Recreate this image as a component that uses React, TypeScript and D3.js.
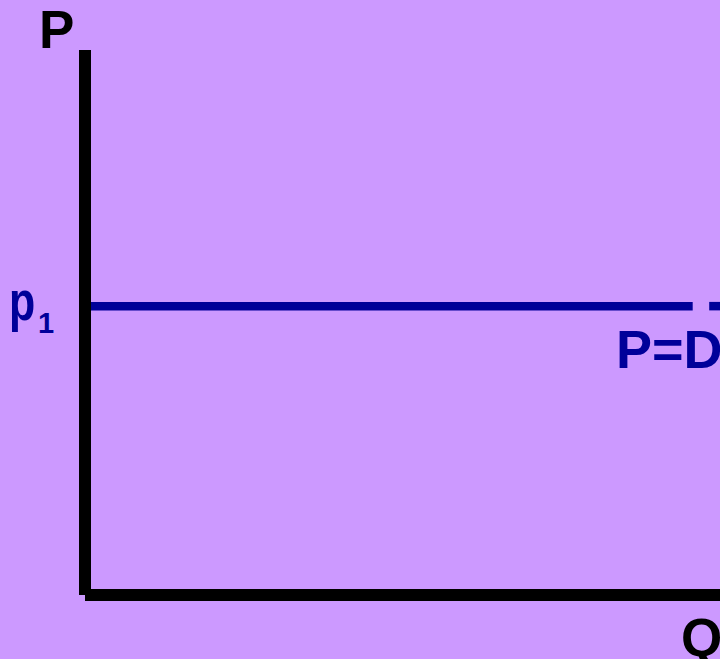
import React from "react";
import * as d3 from "d3";

const W = 720;
const H = 659;

// Axis domain
const qDomain = [0, 10];
const pDomain = [0, 10];

// Price level p1 and the perfectly elastic demand curve segments (q ranges)
const p1Value = 5.3;
const demandSegments = [
  { q0: 0, q1: 9.57 },
  { q0: 9.83, q1: 10.3 },
];

const axisLabels = { p: "P", q: "Q" };
const priceLabel = { main: "p", sub: "1" };
const curveLabel = "P=D";

export default function App() {
  const x = d3.scaleLinear().domain(qDomain).range([85, 720]);
  const y = d3.scaleLinear().domain(pDomain).range([595, 50]);
  const font = "'Liberation Sans', Arial, sans-serif";
  const blue = "#000099";
  const line = d3
    .line<[number, number]>()
    .x((d) => x(d[0]))
    .y((d) => y(d[1]));
  const py = y(p1Value);

  return (
    <svg
      width={W}
      height={H}
      style={{ position: "fixed", left: 0, top: 0, display: "block" }}
      fontFamily={font}
      fontWeight="bold"
    >
      <rect x={0} y={0} width={W} height={H} fill="#CC99FF" />
      {demandSegments.map((s, i) => (
        <path
          key={i}
          d={line([
            [s.q0, p1Value],
            [s.q1, p1Value],
          ]) || ""}
          stroke={blue}
          strokeWidth={8.5}
          fill="none"
        />
      ))}
      {/* vertical axis */}
      <path
        d={`M${x(0)},${y(pDomain[1])}L${x(0)},${y(0)}`}
        stroke="#000"
        strokeWidth={12}
        fill="none"
      />
      {/* horizontal axis */}
      <path
        d={`M${x(0)},${y(0)}L${x(qDomain[1])},${y(0)}`}
        stroke="#000"
        strokeWidth={12}
        fill="none"
      />
      <text x={39} y={48} fontSize={53} fill="#000">
        {axisLabels.p}
      </text>
      <text x={681} y={656} fontSize={53} fill="#000">
        {axisLabels.q}
      </text>
      <text
        transform={`translate(9,${py + 14}) scale(0.78,1)`}
        x={0}
        y={0}
        fontSize={55}
        fill={blue}
      >
        {priceLabel.main}
      </text>
      <text x={38} y={py + 27} fontSize={29} fill={blue}>
        {priceLabel.sub}
      </text>
      <text x={616} y={py + 62} fontSize={54} fill={blue}>
        {curveLabel}
      </text>
    </svg>
  );
}
